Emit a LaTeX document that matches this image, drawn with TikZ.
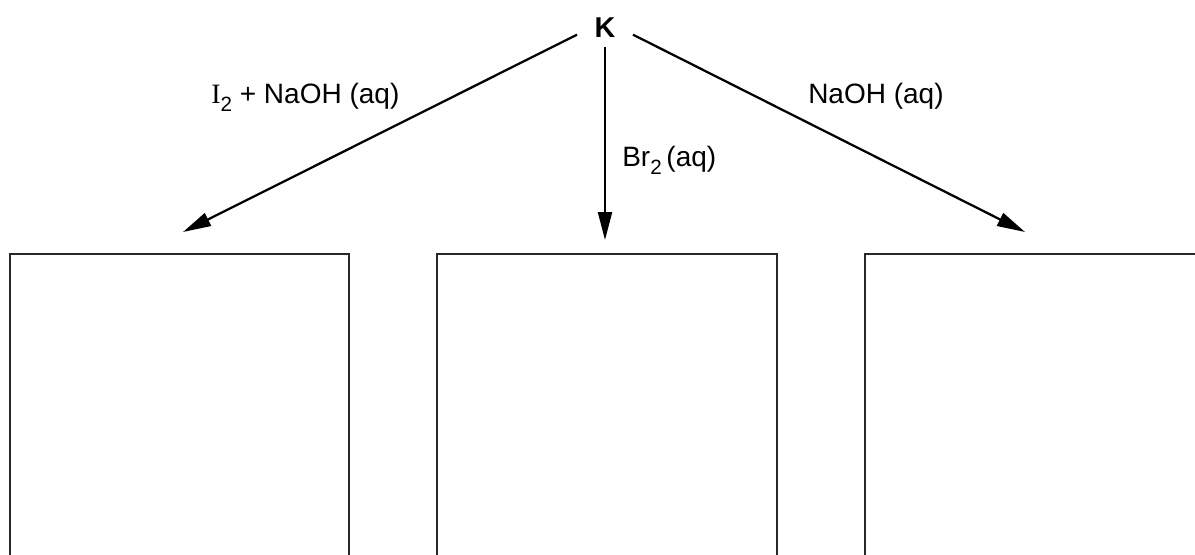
\documentclass[tikz,border=0pt]{standalone}
\usepackage{fontspec}
\setmainfont{Liberation Sans}
\newfontfamily\iodinefont{Liberation Serif}
\usepackage{tikz}
\usetikzlibrary{arrows.meta}

\newcommand{\chemsub}[1]{\raisebox{-0.32em}{\fontsize{15.5}{15.5}\selectfont #1}}

\tikzset{
  reagent/.style={anchor=base west,inner sep=0pt,font=\fontsize{21}{24}\selectfont},
  startnode/.style={anchor=base,inner xsep=13pt,inner ysep=7pt,font=\fontsize{21.5}{24}\selectfont\bfseries},
  reaction/.style={line width=1.7pt,-{Triangle[length=21pt,width=10.5pt]}},
  answerbox/.style={line width=1.9pt,draw={rgb,255:red,40;green,40;blue,40}}
}

\begin{document}
\begin{tikzpicture}[x=0.75pt,y=0.75pt,yscale=-1,xscale=1]
\clip (0,0) rectangle (1195,554);

% Start compound
\node [startnode] (K) at (605,37) {K};

% Arrow ends
\coordinate (tipA) at (183,232);
\coordinate (tipB) at (605,240);
\coordinate (tipC) at (1025,232);

% Reaction arrows
\draw [reaction] (K.195) -- (tipA);
\draw [reaction] (K.south) -- (tipB);
\draw [reaction] (K.-15) -- (tipC);

% Text Node
\node [reagent] (iodine) at (211,103) {{\iodinefont I}\chemsub{2} + NaOH (aq)};
% Text Node
\node [reagent] (bromine) at (622,166) {Br\chemsub{2}\,(aq)};
% Text Node
\node [reagent] (alkali) at (808,103) {NaOH (aq)};

% Answer boxes (open at the bottom edge)
\draw [answerbox] (10,600) -- (10,254) -- (349,254) -- (349,600);
\draw [answerbox] (437,600) -- (437,254) -- (777,254) -- (777,600);
\draw [answerbox] (865,600) -- (865,254) -- (1250,254);

\end{tikzpicture}
\end{document}
